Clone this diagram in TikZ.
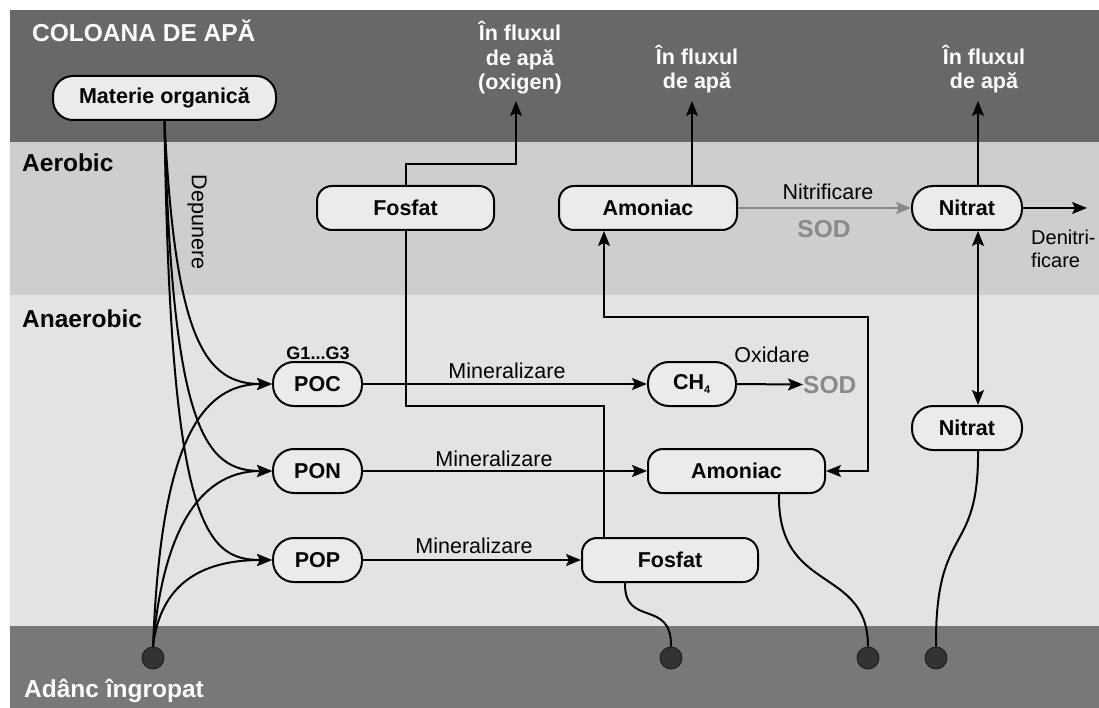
\documentclass[tikz,border=0pt]{standalone}
\usepackage{fontspec}
\setmainfont{Liberation Sans}
\usetikzlibrary{arrows.meta,calc}
\definecolor{topband}{HTML}{686868}
\definecolor{aerob}{HTML}{CECECE}
\definecolor{anaerob}{HTML}{E3E3E3}
\definecolor{botband}{HTML}{787878}
\definecolor{nodefill}{HTML}{EBEBEB}
\definecolor{sodgray}{HTML}{8A8A8A}
\definecolor{dotfill}{HTML}{333333}
\newcommand{\nfont}{\fontsize{21.5}{24.5}\selectfont}
\newcommand{\bigfont}{\fontsize{24.5}{28}\selectfont\bfseries}
\tikzset{
  tip/.tip={Stealth[length=15pt,width=12pt,inset=3pt]},
  box/.style={draw=black, line width=2pt, fill=nodefill, rounded corners=15pt,
    minimum height=44pt, inner sep=0pt, font=\nfont\bfseries},
  pill/.style={box, rounded corners=21pt},
  lbl/.style={inner sep=0pt, font=\nfont},
  wlbl/.style={inner sep=0pt, font=\nfont\bfseries, text=white, align=center},
  sec/.style={inner sep=0pt, font=\bigfont},
  conn/.style={line width=2pt, -tip},
  both/.style={line width=2pt, tip-tip},
  plain/.style={line width=2pt},
  sink/.style={circle, fill=dotfill, draw=black!90, line width=0.8pt, minimum size=22pt, inner sep=0pt},
}
\begin{document}
\begin{tikzpicture}[x=1pt,y=-1pt]
\useasboundingbox (0,0) rectangle (1099,708);
% background bands
\fill[white] (0,0) rectangle (1099,708);
\fill[topband] (10,10) rectangle (1099,142);
\fill[aerob] (10,142) rectangle (1099,295);
\fill[anaerob] (10,295) rectangle (1099,626);
\fill[botband] (10,626) rectangle (1099,708);

% section labels
\node[sec, text=white, anchor=base west] (tcol) at (32,42) {COLOANA DE APĂ};
\node[sec, anchor=base west] (taer) at (22,172) {Aerobic};
\node[sec, anchor=base west] (tana) at (22,327) {Anaerobic};
\node[sec, text=white, anchor=base west] (tdeep) at (24,697) {Adânc îngropat};

% nodes
\node[box, rounded corners=20pt, minimum width=223pt] (mat) at (164.5,98) {Materie organică};
\node[box, minimum width=177pt] (fos1) at (405.5,208) {Fosfat};
\node[box, minimum width=178pt] (am1) at (648,208) {Amoniac};
\node[pill, minimum width=110pt] (nit1) at (967,208) {Nitrat};
\node[pill, minimum width=89pt] (poc) at (317.5,384) {POC};
\node[pill, minimum width=89pt] (pon) at (317.5,471) {PON};
\node[pill, minimum width=89pt] (pop) at (317.5,560) {POP};
\node[pill, minimum width=88pt] (ch4) at (692,384) {CH\textsubscript{\fontsize{11}{12}\selectfont 4}};
\node[box, minimum width=177pt] (am2) at (736.5,471) {Amoniac};
\node[box, minimum width=176pt] (fos2) at (670,560) {Fosfat};
\node[pill, minimum width=110pt] (nit2) at (967,428) {Nitrat};

% sinks
\node[sink] (dL) at (153,658) {};
\node[sink] (dF) at (671,658) {};
\node[sink] (dA) at (868,658) {};
\node[sink] (dN) at (936,658) {};

% top labels (anchor=base is the last line's baseline)
\node[wlbl, anchor=base] (out1) at (520,90) {În fluxul\\de apă\\(oxigen)};
\node[wlbl, anchor=base] (out2) at (697,89) {În fluxul\\de apă};
\node[wlbl, anchor=base] (out3) at (984,89) {În fluxul\\de apă};
\coordinate (o1) at (516,101);
\coordinate (o2) at (692,101);
\coordinate (o3) at (978,101);

% other labels
\node[lbl, anchor=base] (lnitr) at (828,200) {Nitrificare};
\node[inner sep=0pt, font=\bigfont, text=sodgray, anchor=base] (sod1) at (824,238) {SOD};
\node[inner sep=0pt, font=\fontsize{20}{23.5}\selectfont, anchor=base west, align=left] (lden) at (1031,268) {Denitri-\\ficare};
\node[lbl, anchor=base] (lmin1) at (507,378) {Mineralizare};
\node[lbl, anchor=base] (lmin2) at (494,466) {Mineralizare};
\node[lbl, anchor=base] (lmin3) at (474,553) {Mineralizare};
\node[lbl, anchor=base] (lox) at (772,362) {Oxidare};
\node[inner sep=0pt, font=\bigfont, text=sodgray, anchor=base west] (sod2) at (803,393) {SOD};
\node[lbl, rotate=-90] (ldep) at (197,222) {Depunere};
\node[inner sep=0pt, font=\fontsize{18}{20}\selectfont\bfseries, anchor=base] (lg) at (318,359) {G1...G3};
\coordinate (den) at (1087,208);

% deposition curves
\draw[conn] (mat.south) .. controls (175,340) and (205,384) .. (poc.west);
\draw[conn] (mat.south) .. controls (172,430) and (205,471) .. (pon.west);
\draw[conn] (mat.south) .. controls (170,525) and (205,560) .. (pop.west);
\draw[conn] (dL.north) .. controls (160,470) and (190,384) .. (poc.west);
\draw[conn] (dL.north) .. controls (162,540) and (195,471) .. (pon.west);
\draw[conn] (dL.north) .. controls (160,585) and (200,560) .. (pop.west);

% mineralization
\draw[conn] (poc.east) -- (ch4.west);
\draw[conn] (pon.east) -- (am2.west);
\draw[conn] (pop.east) -- (fos2.west);
\draw[conn] (ch4.east) -- (sod2.west);

% fluxes up
\draw[plain] ([xshift=-66pt]fos2.north) |- (405.5,406) -- (fos1.south);
\draw[conn] (fos1.north) |- (516,164) -- (o1);
\draw[conn] ([xshift=44pt]am1.north) -- (o2);
\draw[conn] ([xshift=11pt]nit1.north) -- (o3);
\draw[both] ([xshift=-44pt]am1.south) |- (868,317) |- (am2.east);
\draw[line width=2pt, draw=sodgray, -tip] (am1.east) -- (nit1.west);
\draw[conn] (nit1.east) -- (den);
\draw[both] ([xshift=11pt]nit1.south) -- ([xshift=11pt]nit2.north);

% burial
\draw[plain] ([xshift=-45pt]fos2.south) .. controls (624,628) and (672,598) .. (dF.north);
\draw[plain] ([xshift=42.5pt]am2.south) .. controls (777,595) and (868,565) .. (dA.north);
\draw[plain] ([xshift=11pt]nit2.south) .. controls (979,558) and (935,522) .. (dN.north);
\end{tikzpicture}
\end{document}
